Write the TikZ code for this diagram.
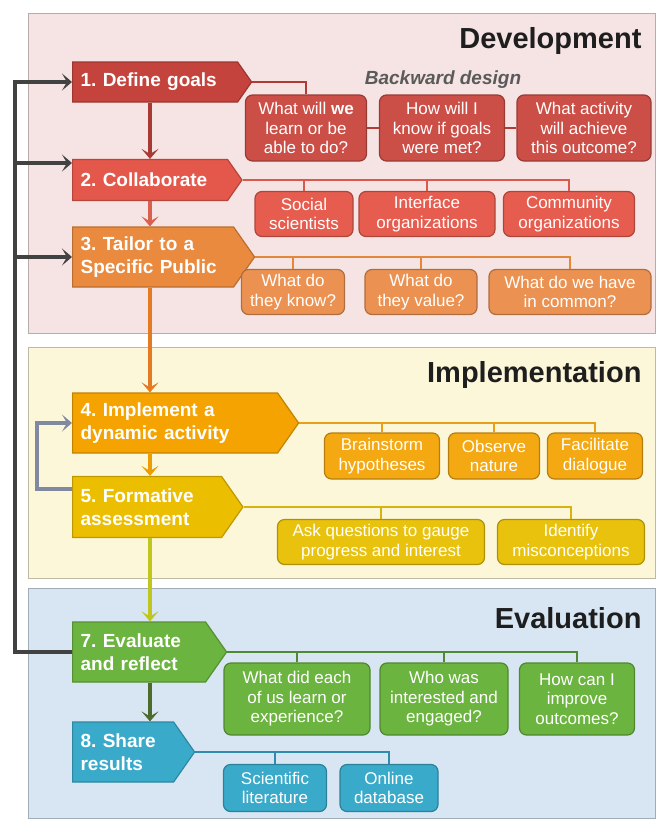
\documentclass[tikz,border=0pt]{standalone}
\usepackage{fontspec}
\setmainfont{Liberation Sans}
\usetikzlibrary{shapes.symbols,arrows.meta}
\definecolor{devbg}{HTML}{F6E4E4}
\definecolor{impbg}{HTML}{FDF7DA}
\definecolor{evbg}{HTML}{D8E6F4}
\definecolor{c1}{HTML}{C4433C}
\definecolor{c2}{HTML}{E3584B}
\definecolor{c3}{HTML}{E98A3E}
\definecolor{c4}{HTML}{F4A300}
\definecolor{c5}{HTML}{ECBE00}
\definecolor{c7}{HTML}{6BB43F}
\definecolor{c8}{HTML}{3AAACB}
\definecolor{b1}{HTML}{CC4F47}
\definecolor{b2}{HTML}{E65D4F}
\definecolor{b3}{HTML}{EB9252}
\definecolor{b4}{HTML}{F4A812}
\definecolor{b5}{HTML}{E8C20C}
\definecolor{r1}{HTML}{B23C35}
\definecolor{r2}{HTML}{D95A4D}
\definecolor{r3}{HTML}{E3873A}
\definecolor{r4}{HTML}{EA9F18}
\definecolor{r5}{HTML}{D8B20E}
\definecolor{r7}{HTML}{4F8A32}
\definecolor{r8}{HTML}{2E8DAE}
\definecolor{a12}{HTML}{A93933}
\definecolor{a23}{HTML}{D9604F}
\definecolor{a34}{HTML}{E47A22}
\definecolor{a45}{HTML}{EE9D00}
\definecolor{a57}{HTML}{BFC61E}
\definecolor{a78}{HTML}{4D6B2B}
\definecolor{loopc}{HTML}{424242}
\definecolor{fbc}{HTML}{8089A0}
\definecolor{titlec}{HTML}{1E1E1E}
\definecolor{bwdc}{HTML}{5A5A5A}
\newcommand{\stagefont}{\fontsize{19}{23}\selectfont\bfseries\frenchspacing\hyphenpenalty=10000\relax}

\begin{document}
\begin{tikzpicture}[x=1pt,y=-1pt,
    stage/.style={signal, signal to=east, signal pointer angle=110, anchor=west,
        fill=#1, draw=#1!80!black, line width=1.2pt, text=white, align=left,
        inner xsep=8pt, inner ysep=0pt, font=\stagefont},
    qbox/.style={rounded corners=7pt, fill=#1, draw=#1!75!black, line width=1.2pt,
        text=white, align=center, inner sep=0pt, font=\fontsize{17}{19.5}\selectfont},
    bus/.style={draw=#1, line width=1.8pt},
    flow/.style={draw=#1, line width=3.5pt, -{Stealth[length=10pt,width=17pt,inset=5pt]}},
    panel/.style={fill=#1, draw=#1!75!black, line width=1pt},
    heading/.style={anchor=base east, text=titlec, font=\fontsize{29}{33}\selectfont\bfseries}]
        \useasboundingbox (0,0) rectangle (657,820);
        \fill[white] (0,0) rectangle (657,820);
        \draw[panel=devbg] (28,13) rectangle (655,333);
        \draw[panel=impbg] (28,347) rectangle (655,578);
        \draw[panel=evbg] (28,588) rectangle (655,818);
        \node[heading] (tdev) at (645,48) {Development};
        \node[heading] (timp) at (645,382) {Implementation};
        \node[heading] (teval) at (645,628) {Evaluation};
        \node[anchor=base, text=bwdc, font=\fontsize{19}{22}\selectfont\bfseries\itshape] (bwd) at (443,84) {Backward design};

        \node[stage=c1, text width=149pt, minimum height=40pt] (s1) at (72,82) {1. Define goals};
        \node[stage=c2, text width=139pt, minimum height=41pt] (s2) at (72,180) {2. Collaborate};
        \node[stage=c3, text width=145pt, minimum height=60pt] (s3) at (72,257) {3. Tailor to a\\Specific Public};
        \node[stage=c4, text width=189pt, minimum height=60pt] (s4) at (72,423) {4. Implement a\\dynamic activity};
        \node[stage=c5, text width=133pt, minimum height=61pt] (s5) at (72,507) {5. Formative\\assessment};
        \node[stage=c7, text width=117pt, minimum height=60pt] (s7) at (72,652) {7. Evaluate\\and reflect};
        \node[stage=c8, text width=85pt, minimum height=60pt] (s8) at (72,752) {8. Share\\results};

        \node[qbox=b1, minimum width=121pt, minimum height=66pt] (q11) at (306,128) {What will \textbf{we}\\learn or be\\able to do?};
        \node[qbox=b1, minimum width=125pt, minimum height=66pt] (q12) at (442,128) {How will I\\know if goals\\were met?};
        \node[qbox=b1, minimum width=134pt, minimum height=66pt] (q13) at (584,128) {What activity\\will achieve\\this outcome?};
        \node[qbox=b2, minimum width=98pt, minimum height=45pt] (q21) at (304,214) {Social\\scientists};
        \node[qbox=b2, minimum width=136pt, minimum height=45pt] (q22) at (427,214) {Interface\\organizations};
        \node[qbox=b2, minimum width=131pt, minimum height=45pt] (q23) at (569,214) {Community\\organizations};
        \node[qbox=b3, minimum width=103pt, minimum height=45pt] (q31) at (293,292) {What do\\they know?};
        \node[qbox=b3, minimum width=112pt, minimum height=45pt] (q32) at (421,292) {What do\\they value?};
        \node[qbox=b3, minimum width=162pt, minimum height=45pt] (q33) at (570,292) {What do we have\\in common?};
        \node[qbox=b4, minimum width=115pt, minimum height=46pt] (q41) at (382,456) {Brainstorm\\hypotheses};
        \node[qbox=b4, minimum width=91pt, minimum height=46pt] (q42) at (494,456) {Observe\\nature};
        \node[qbox=b4, minimum width=95pt, minimum height=46pt] (q43) at (595,456) {Facilitate\\dialogue};
        \node[qbox=b5, minimum width=207pt, minimum height=45pt] (q51) at (381,542) {Ask questions to gauge\\progress and interest};
        \node[qbox=b5, minimum width=147pt, minimum height=45pt] (q52) at (571,542) {Identify\\misconceptions};
        \node[qbox=c7, minimum width=146pt, minimum height=72pt] (q71) at (297,699) {What did each\\of us learn or\\experience?};
        \node[qbox=c7, minimum width=128pt, minimum height=72pt] (q72) at (444,699) {Who was\\interested and\\engaged?};
        \node[qbox=c7, minimum width=115pt, minimum height=72pt] (q73) at (577,699) {How can I\\improve\\outcomes?};
        \node[qbox=c8, minimum width=103pt, minimum height=47pt] (q81) at (275,788) {Scientific\\literature};
        \node[qbox=c8, minimum width=98pt, minimum height=47pt] (q82) at (389,788) {Online\\database};

        \draw[bus=r1] (s1.east) -| (q11.north);
        \draw[bus=r1] (q11.east) -- (q12.west) (q12.east) -- (q13.west);
        \draw[bus=r2] (s2.east) -| (q23.north);
        \draw[bus=r3] (s3.east) -| (q33.north);
        \draw[bus=r4] (s4.east) -| (q43.north);
        \draw[bus=r5] (s5.east) -| (q52.north);
        \draw[bus=r7] (s7.east) -| (q73.north);
        \draw[bus=r8] (s8.east) -| (q82.north);
        \foreach \q/\s/\c in {q21/s2/r2,q22/s2/r2,q31/s3/r3,q32/s3/r3,q41/s4/r4,q42/s4/r4,q51/s5/r5,q71/s7/r7,q72/s7/r7,q81/s8/r8} {
            \draw[bus=\c] (\q.north) -- (\q.north |- \s.east);
        }

        \coordinate (axis) at (150,0);
        \draw[flow=a12] (s1.south -| axis) -- (s2.north -| axis);
        \draw[flow=a23] (s2.south -| axis) -- (s3.north -| axis);
        \draw[flow=a34] (s3.south -| axis) -- (s4.north -| axis);
        \draw[flow=a45] (s4.south -| axis) -- (s5.north -| axis);
        \draw[flow=a57] (s5.south -| axis) -- (s7.north -| axis);
        \draw[flow=a78] (s7.south -| axis) -- (s8.north -| axis);

        \coordinate (fbx) at (37,0);
        \coordinate (fb) at ([yshift=18pt]s5.west);
        \draw[flow=fbc] (fb) -- (fb -| fbx) -- (s4.west -| fbx) -- (s4.west);

        \coordinate (spine) at (15,0);
        \coordinate (in2) at ([yshift=17pt]s2.west);
        \draw[flow=loopc, line width=4.5pt] (s7.west) -- (s7.west -| spine) -- (s1.west -| spine) -- (s1.west);
        \draw[flow=loopc, line width=4.5pt] (in2 -| spine) -- (in2);
        \draw[flow=loopc, line width=4.5pt] (s3.west -| spine) -- (s3.west);
\end{tikzpicture}
\end{document}
